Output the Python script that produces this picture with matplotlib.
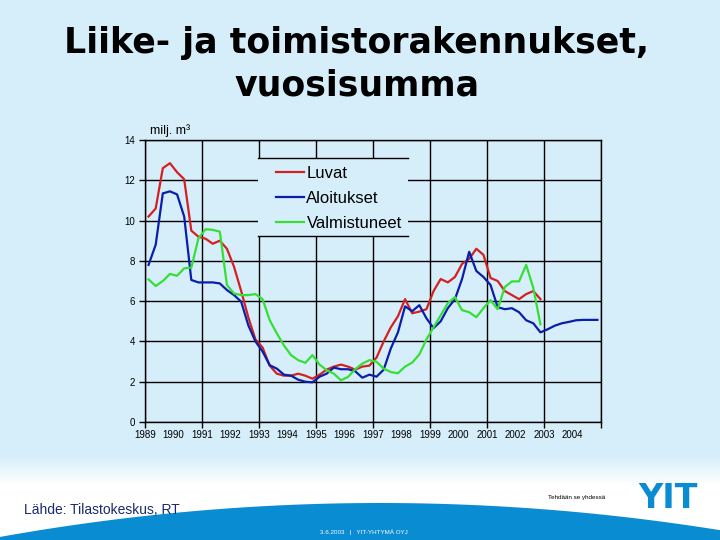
import numpy as np
import matplotlib
matplotlib.use('Agg')
import matplotlib.pyplot as plt
from matplotlib.patches import Rectangle, Polygon

# neljännesvuosittaiset vuosisummat, milj. m3 (luettu kuvasta)
start_year = 1989
luvat = [10.2, 10.6, 12.6, 12.85, 12.4, 12.05, 9.5, 9.2, 9.1, 8.85,
         9.0, 8.6, 7.7, 6.5, 5.2, 4.1, 3.7, 2.8, 2.4, 2.3,
         2.3, 2.4, 2.3, 2.15, 2.35, 2.6, 2.75, 2.85, 2.75, 2.6,
         2.75, 2.8, 3.2, 4.0, 4.7, 5.25, 6.1, 5.4, 5.48, 5.6,
         6.5, 7.1, 6.93, 7.2, 7.85, 8.1, 8.6, 8.3, 7.15, 7.0,
         6.5, 6.3, 6.1, 6.35, 6.5, 6.1]
aloitukset = [7.8, 8.8, 11.35, 11.45, 11.3, 10.2, 7.05, 6.93, 6.93, 6.93,
              6.88, 6.55, 6.3, 5.97, 4.8, 4.0, 3.5, 2.82, 2.65, 2.35,
              2.3, 2.1, 2.0, 1.97, 2.25, 2.4, 2.7, 2.62, 2.62, 2.52,
              2.2, 2.35, 2.25, 2.6, 3.65, 4.45, 5.74, 5.5, 5.8, 5.15,
              4.66, 5.0, 5.65, 6.1, 7.1, 8.45, 7.5, 7.2, 6.8, 5.7,
              5.6, 5.65, 5.45, 5.05, 4.9, 4.45, 4.6, 4.78, 4.9, 4.97,
              5.05, 5.07, 5.07, 5.07]
valmistuneet = [7.08, 6.75, 7.0, 7.35, 7.26, 7.63, 7.66, 9.12, 9.57, 9.54,
                9.45, 6.8, 6.38, 6.3, 6.3, 6.35, 6.1, 5.06, 4.4, 3.8,
                3.32, 3.07, 2.94, 3.32, 2.85, 2.57, 2.4, 2.07, 2.24, 2.62,
                2.9, 3.07, 2.99, 2.65, 2.48, 2.42, 2.75, 2.95, 3.35, 4.1,
                4.7, 5.3, 5.9, 6.2, 5.55, 5.45, 5.2, 5.65, 6.05, 5.6,
                6.7, 6.98, 6.98, 7.8, 6.65, 4.85]

years = list(range(1989, 2005))

bg_col = '#d6eefa'
W, H = 720, 540
narrow = ['Liberation Sans Narrow', 'Liberation Sans']

fig = plt.figure(figsize=(7.2, 5.4), dpi=100, facecolor='white')

# tausta
bg = fig.add_axes([0, 0, 1, 1], zorder=-1)
bg.axis('off')
bg.add_patch(Rectangle((0, 0), W, 455, color=bg_col, lw=0))
grad = np.linspace(0, 1, 50).reshape(-1, 1)
cmap = matplotlib.colors.LinearSegmentedColormap.from_list('g', [bg_col, 'white'])
bg.imshow(grad, extent=(0, W, 485, 455), cmap=cmap, aspect='auto', zorder=0)
xs = np.linspace(0, W, 200)
ys = 503 + 2.35e-4 * (xs - 380) ** 2
arc = np.column_stack([np.r_[xs, W, 0], np.r_[ys, H, H]])
bg.add_patch(Polygon(arc, closed=True, color='#0a8cd2', lw=0, zorder=1))
bg.set_xlim(0, W)
bg.set_ylim(H, 0)

bg.text(357, 43, 'Liike- ja toimistorakennukset,', ha='center', va='center',
        fontsize=25, fontweight='bold', family='DejaVu Sans')
bg.text(357, 85, 'vuosisumma', ha='center', va='center',
        fontsize=25, fontweight='bold', family='DejaVu Sans')
bg.text(24, 510, 'Lähde: Tilastokeskus, RT', ha='left', va='center', fontsize=10,
        color='#1a2a6c', family=narrow)
bg.text(548, 497, 'Tehdään se yhdessä', ha='left', va='center', fontsize=4.5,
        color='black', family=narrow)
bg.text(668, 498, 'YIT', ha='center', va='center', fontsize=24, fontweight='heavy',
        color='#0a8cd2', family='DejaVu Sans')
bg.text(364, 532, '3.6.2003   |   YIT-YHTYMÄ OYJ', ha='center', va='center', fontsize=4.5,
        color='white', family=narrow)

# kaavio
ax = fig.add_axes([145 / W, 1 - 422 / H, 456 / W, 282 / H], facecolor=bg_col)
x_l = start_year + 0.125 + 0.25 * np.arange(len(luvat))
x_a = start_year + 0.125 + 0.25 * np.arange(len(aloitukset))
x_v = start_year + 0.125 + 0.25 * np.arange(len(valmistuneet))
ax.plot(x_l, luvat, color='#d42020', lw=1.6, label='Luvat', zorder=3)
ax.plot(x_a, aloitukset, color='#0a1eaa', lw=1.6, label='Aloitukset', zorder=3)
ax.plot(x_v, valmistuneet, color='#33e033', lw=1.6, label='Valmistuneet', zorder=3)

ax.set_xlim(1989, 2005)
ax.set_ylim(0, 14)
ax.set_yticks(range(0, 15, 2))
ax.xaxis.remove_overlapping_locs = False
ax.set_xticks(years)
ax.set_xticks(range(1989, 2006, 2), minor=True)
ax.tick_params(axis='x', which='major', length=0, pad=6, labelsize=7)
ax.tick_params(axis='x', which='minor', length=4, width=1, color='black')
ax.tick_params(axis='y', length=4, width=1, labelsize=7, pad=3)
ax.grid(axis='x', which='minor', color='black', lw=1)
ax.grid(axis='y', which='major', color='black', lw=1)
for lab in ax.get_xticklabels() + ax.get_yticklabels():
    lab.set_family(narrow)
for s in ax.spines.values():
    s.set_color('black')
    s.set_linewidth(1)
ax.set_axisbelow(True)

ax.text(0.012, 1.01, 'milj. m³', transform=ax.transAxes, ha='left', va='bottom', fontsize=9,
        family=['Liberation Sans', 'DejaVu Sans'])

# selitelaatikko: tausta peittää ruudukon, viivat ylä- ja alareunassa
ax.add_patch(Rectangle((0.248, 0.66), 0.329, 0.276, transform=ax.transAxes,
                       facecolor=bg_col, edgecolor='none', zorder=4))
for y in (0.936, 0.66):
    ax.plot([0.248, 0.577], [y, y], transform=ax.transAxes, color='black', lw=1,
            zorder=6, clip_on=False)
leg = ax.legend(loc='upper left', bbox_to_anchor=(0.27, 0.936), borderaxespad=0,
                frameon=False, handlelength=1.7, handletextpad=0.15,
                labelspacing=0.62, borderpad=0.45,
                prop={'family': narrow, 'size': 12})
leg.set_zorder(5)

fig.savefig('out.png', dpi=100, facecolor='white')
